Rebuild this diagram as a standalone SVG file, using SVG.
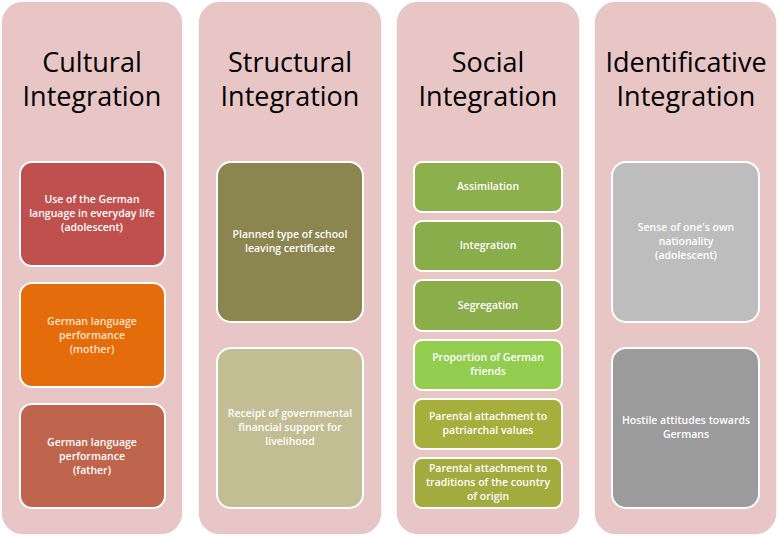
<svg xmlns="http://www.w3.org/2000/svg" width="778" height="536" viewBox="0 0 778 536">
<style>
.col{fill:#e8c6c6;stroke:#ffffff;stroke-width:1.5}
.box{stroke:#ffffff;stroke-width:2}
.t{font-family:"Open Sans","Liberation Sans",sans-serif;font-size:27px;fill:#000;text-anchor:middle}
.b{font-family:"Open Sans","Liberation Sans",sans-serif;font-size:10.5px;font-weight:600;fill:#fff;text-anchor:middle}
.pe{fill:#fde2c8}
</style>
<rect width="778" height="536" fill="#ffffff"/>
<g id="col1">
<rect class="col" x="1" y="1" width="182" height="534" rx="22"/>
<text class="t" x="92" y="72">Cultural</text><text class="t" x="92" y="106">Integration</text>
</g>
<g id="col2">
<rect class="col" x="198" y="1" width="184" height="534" rx="22"/>
<text class="t" x="290" y="72">Structural</text><text class="t" x="290" y="106">Integration</text>
</g>
<g id="col3">
<rect class="col" x="396" y="1" width="184" height="534" rx="22"/>
<text class="t" x="488" y="72">Social</text><text class="t" x="488" y="106">Integration</text>
</g>
<g id="col4">
<rect class="col" x="594" y="1" width="183" height="534" rx="22"/>
<text class="t" x="686" y="72">Identificative</text><text class="t" x="686" y="106">Integration</text>
</g>
<g id="n1"><rect class="box" x="20" y="162" width="145" height="104" rx="12" fill="#c0504d"/>
<text class="b" x="92" y="203">Use of the German</text><text class="b" x="92" y="217">language in everyday life</text><text class="b" x="92" y="231">(adolescent)</text></g>
<g id="n2"><rect class="box" x="20" y="283" width="145" height="104" rx="12" fill="#e46c0a"/>
<text class="b pe" x="92" y="325">German language</text><text class="b pe" x="92" y="339">performance</text><text class="b pe" x="92" y="353">(mother)</text></g>
<g id="n3"><rect class="box" x="20" y="404" width="145" height="104" rx="12" fill="#c0654d"/>
<text class="b" x="92" y="446">German language</text><text class="b" x="92" y="460">performance</text><text class="b" x="92" y="474">(father)</text></g>
<g id="n4"><rect class="box" x="217" y="162" width="146" height="160" rx="14" fill="#8b8550"/>
<text class="b" x="290" y="238">Planned type of school</text><text class="b" x="290" y="252">leaving certificate</text></g>
<g id="n5"><rect class="box" x="217" y="348" width="146" height="160" rx="14" fill="#c3bd93"/>
<text class="b" x="290" y="417">Receipt of governmental</text><text class="b" x="290" y="431">financial support for</text><text class="b" x="290" y="445">livelihood</text></g>
<g id="n6"><rect class="box" x="414" y="162" width="148" height="50" rx="8" fill="#8cb04c"/>
<text class="b" x="488" y="190">Assimilation</text></g>
<g id="n7"><rect class="box" x="414" y="221" width="148" height="50" rx="8" fill="#89ad4a"/>
<text class="b" x="488" y="249">Integration</text></g>
<g id="n8"><rect class="box" x="414" y="280" width="148" height="51" rx="8" fill="#8bae4a"/>
<text class="b" x="488" y="309">Segregation</text></g>
<g id="n9"><rect class="box" x="414" y="340" width="148" height="50" rx="8" fill="#92cd50"/>
<text class="b" x="488" y="361">Proportion of German</text><text class="b" x="488" y="375">friends</text></g>
<g id="n10"><rect class="box" x="414" y="399" width="148" height="50" rx="8" fill="#a6ae3c"/>
<text class="b" x="488" y="420">Parental attachment to</text><text class="b" x="488" y="434">patriarchal values</text></g>
<g id="n11"><rect class="box" x="414" y="458" width="148" height="50" rx="8" fill="#a2ab3e"/>
<text class="b" x="488" y="472">Parental attachment to</text><text class="b" x="488" y="486">traditions of the country</text><text class="b" x="488" y="500">of origin</text></g>
<g id="n12"><rect class="box" x="612" y="162" width="147" height="160" rx="14" fill="#bdbdbd"/>
<text class="b" x="686" y="231">Sense of one's own</text><text class="b" x="686" y="245">nationality</text><text class="b" x="686" y="259">(adolescent)</text></g>
<g id="n13"><rect class="box" x="612" y="348" width="147" height="160" rx="14" fill="#9b9b9b"/>
<text class="b" x="686" y="424">Hostile attitudes towards</text><text class="b" x="686" y="438">Germans</text></g>
<g id="connectors"/>
</svg>
